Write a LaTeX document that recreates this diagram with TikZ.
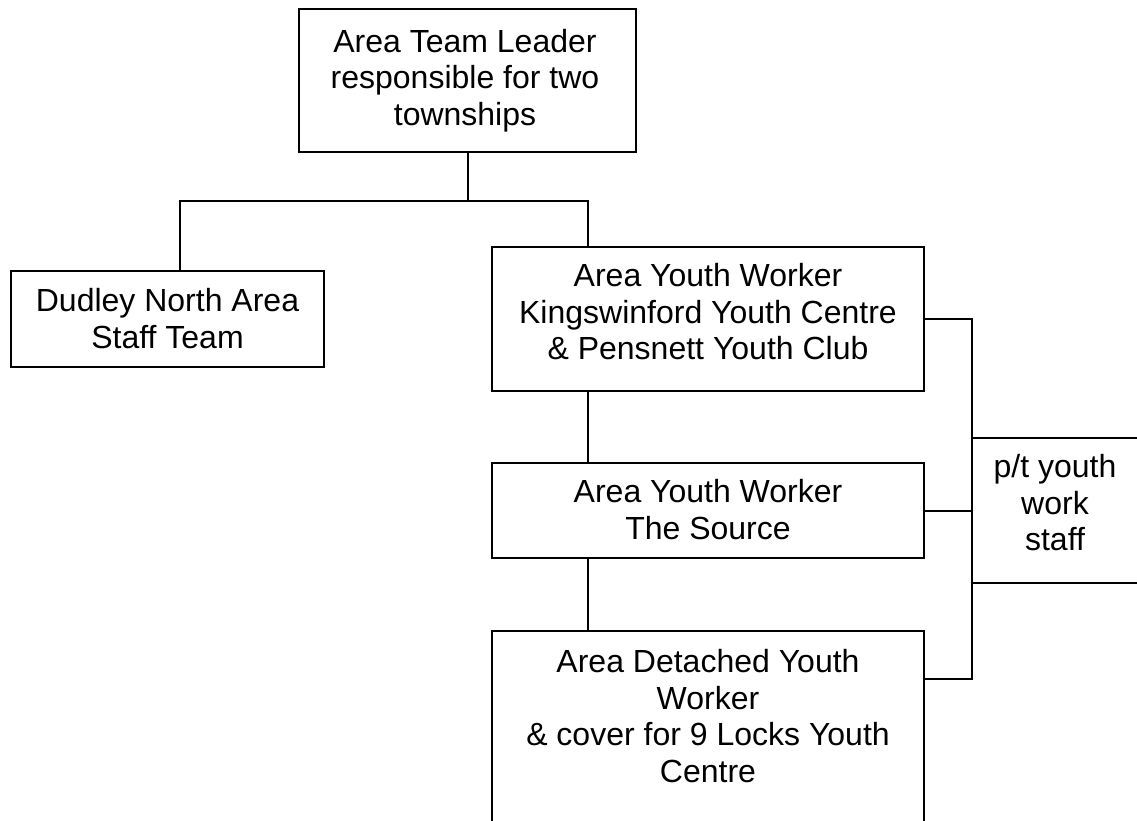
\documentclass[tikz,border=0pt]{standalone}
\usepackage{fontspec}
\setmainfont{Liberation Sans}
\newcommand{\fl}{\rule{0pt}{29pt}}
\tikzset{
  orgbox/.style={draw=black,line width=2pt,rectangle,inner sep=0pt},
  lbl/.style={anchor=north,inner sep=0pt,align=center,text=black,font=\fontsize{32}{36.8}\selectfont},
  conn/.style={draw=black,line width=2pt,line cap=rect}
}
\begin{document}
\begin{tikzpicture}[x=1pt,y=-1pt]
\useasboundingbox (0,0) rectangle (1137,821);
\clip (0,0) rectangle (1137,821);
\fill[white] (0,0) rectangle (1137,821);
% boxes
\node[orgbox,minimum width=337pt,minimum height=143pt] (lead) at (467.5,80.5) {};
\node[orgbox,minimum width=313pt,minimum height=96pt] (dud) at (167.5,319) {};
\node[orgbox,minimum width=432pt,minimum height=144pt] (ayw1) at (708,319) {};
\node[orgbox,minimum width=432pt,minimum height=95pt] (ayw2) at (708,510.5) {};
\node[orgbox,minimum width=432pt,minimum height=229pt] (det) at (708,745.5) {};
\node[orgbox,minimum width=168pt,minimum height=145pt] (pt) at (1056,510.5) {};
% texts
\node[lbl] (leadt) at (465,23) {\fl Area Team Leader\\responsible for two\\townships};
\node[lbl] (dudt) at (167.5,282) {\fl Dudley North Area\\Staff Team};
\node[lbl] (ayw1t) at (708,257) {\fl Area Youth Worker\\Kingswinford Youth Centre\\\& Pensnett Youth Club};
\node[lbl] (ayw2t) at (708,473) {\fl Area Youth Worker\\The Source};
\node[lbl] (dett) at (708,643) {\fl Area Detached Youth\\Worker\\\& cover for 9 Locks Youth\\Centre};
\node[lbl] (ptt) at (1055,448) {\fl p/t youth\\work\\staff};
% connectors
\coordinate (hl) at (180,201);
\coordinate (hr) at (588,201);
\coordinate (bus) at (972,319);
\coordinate (detc) at (924,679);
\draw[conn] (lead.south) -- (lead.south |- hl);
\draw[conn] (hl |- dud.north) -- (hl) -- (hr) -- (hr |- ayw1.north);
\draw[conn] (ayw1.south -| hr) -- (ayw2.north -| hr);
\draw[conn] (ayw2.south -| hr) -- (det.north -| hr);
\draw[conn] (ayw1.east) -- (bus) -- (bus |- detc) -- (detc);
\draw[conn] (ayw2.east) -- (ayw2.east -| pt.west);
\end{tikzpicture}
\end{document}
